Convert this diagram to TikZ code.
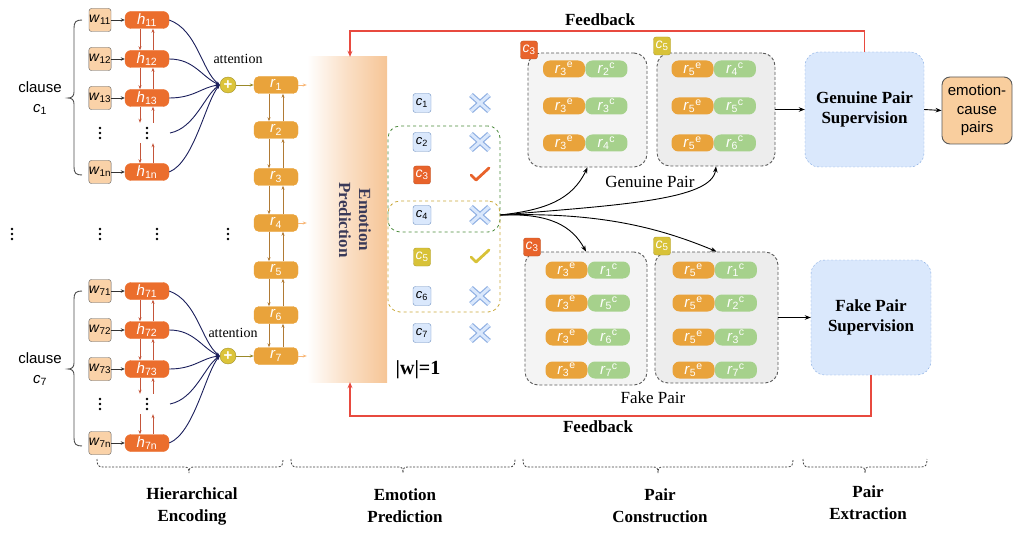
\documentclass[tikz,border=0pt]{standalone}
\usepackage{fontspec}
\setmainfont{Liberation Serif}
\setsansfont{Liberation Sans}
\usetikzlibrary{arrows.meta,calc}
\definecolor{wfill}{HTML}{FAD2A8}
\definecolor{hfill}{HTML}{EB6E2D}
\definecolor{rfill}{HTML}{E9A33B}
\definecolor{gfill}{HTML}{A6D18C}
\definecolor{cfill}{HTML}{DAE8FC}
\definecolor{cdraw}{HTML}{6C8EBF}
\definecolor{c3fill}{HTML}{E8632B}
\definecolor{c5fill}{HTML}{D8C238}
\definecolor{navy}{HTML}{1B1F5C}
\definecolor{fbred}{HTML}{E84A3F}
\definecolor{epc}{HTML}{F6C596}
\definecolor{eptext}{HTML}{3A3A58}
\definecolor{hharrow}{HTML}{C4553A}
\definecolor{rrarrow}{HTML}{B07A35}
\definecolor{plusc}{HTML}{DCC43A}
\definecolor{grpgreen}{HTML}{4A8A3A}
\definecolor{grpyellow}{HTML}{C9A83A}
\definecolor{supfill}{HTML}{DAE8FC}
\definecolor{supdraw}{HTML}{7EA6E0}
\definecolor{ecfill}{HTML}{F9CE9E}
\definecolor{boxgray}{HTML}{F4F4F4}
\definecolor{boxgray2}{HTML}{EDEDED}
\definecolor{xblue}{HTML}{8FB0E3}
\newcommand\sub[2]{\textit{#1}\textsubscript{#2}}
\newcommand\rp[2]{\textit{r}\textsubscript{#1}\textsuperscript{#2}}
\newcommand\vdt[2]{\fill (#1,#2-5) circle (1.4pt) (#1,#2) circle (1.4pt) (#1,#2+5) circle (1.4pt);}
\newcommand\vbrace[3]{\draw[lbrace] (82,#1) .. controls (76,#1) and (74,#1+2) .. (74,#1+8) -- (74,#3-6) .. controls (74,#3-2) and (72,#3) .. (68,#3) .. controls (72,#3) and (74,#3+2) .. (74,#3+6) -- (74,#2-8) .. controls (74,#2-2) and (76,#2) .. (82,#2);}
\newcommand\hbrace[3]{\draw[bbrace] (#1,459) .. controls (#1,465) and (#1+1,467) .. (#1+6,467) -- (#3-5,467) .. controls (#3-1,467) and (#3,468) .. (#3,473) .. controls (#3,468) and (#3+1,467) .. (#3+5,467) -- (#2-6,467) .. controls (#2-1,467) and (#2,465) .. (#2,459);}
\newcommand\xmk[1]{\draw[line width=5.4pt, xblue] ([shift={(-9,-8)}]#1) -- ([shift={(9,8)}]#1) ([shift={(-9,8)}]#1) -- ([shift={(9,-8)}]#1);
\draw[line width=3pt, cfill] ([shift={(-9,-8)}]#1) -- ([shift={(9,8)}]#1) ([shift={(-9,8)}]#1) -- ([shift={(9,-8)}]#1);}
\newcommand\cmk[2]{\draw[line width=2.8pt, #2, line cap=round, line join=round] ([shift={(-9,0)}]#1) -- ([shift={(-4,5)}]#1) -- ([shift={(9,-7)}]#1);}
\tikzset{
 wbox/.style={draw=black!65, fill=wfill, rounded corners=2.5pt, minimum width=22pt, minimum height=23pt, inner sep=0pt, font=\sffamily\fontsize{14}{14}\selectfont},
 hbox/.style={fill=hfill, draw=hfill, rounded corners=6pt, minimum width=44pt, minimum height=17pt, inner sep=0pt, text=white, font=\sffamily\fontsize{15}{15}\selectfont},
 rbox/.style={fill=rfill, draw=rfill, rounded corners=5pt, minimum width=44pt, minimum height=17pt, inner sep=0pt, text=white, font=\sffamily\fontsize{15}{15}\selectfont},
 cbox/.style={draw=cdraw, fill=cfill, rounded corners=2.5pt, minimum width=18pt, minimum height=19pt, inner sep=0pt, font=\sffamily\fontsize{13}{13}\selectfont},
 badge/.style={draw=#1!80!black, fill=#1, text=white, rounded corners=2.5pt, minimum width=17pt, minimum height=18pt, inner sep=0pt, font=\sffamily\fontsize{14}{14}\selectfont},
 pe/.style={fill=rfill, rounded corners=7pt, minimum width=42pt, minimum height=17pt, inner sep=0pt, text=white, font=\sffamily\fontsize{15}{15}\selectfont},
 pc/.style={fill=gfill, rounded corners=7pt, minimum width=42pt, minimum height=17pt, inner sep=0pt, text=white, font=\sffamily\fontsize{15}{15}\selectfont},
 pbox/.style={draw=black!65, dash pattern=on 3pt off 2pt, line width=0.9pt, rounded corners=13pt},
 sup/.style={draw=supdraw, fill=supfill, dash pattern=on 2pt off 2pt, rounded corners=14pt, align=center, font=\bfseries\fontsize{17}{20}\selectfont},
 plusn/.style={circle, fill=plusc, draw=plusc!75!black, minimum size=16pt, inner sep=0pt, text=white, font=\sffamily\bfseries\fontsize{15}{15}\selectfont},
 warrow/.style={->, black!80, line width=0.8pt, >={Stealth[length=4pt,width=3.5pt]}},
 hh/.style={->, hharrow, line width=0.9pt, >={Stealth[length=4pt,width=3pt]}},
 rr/.style={->, rrarrow, line width=0.9pt, >={Stealth[length=4pt,width=3pt]}},
 att/.style={-{Stealth[length=4pt,width=3pt]}, navy, line width=0.9pt},
 pa/.style={->, plusc!70!black, line width=0.9pt, >={Stealth[length=4pt,width=3pt]}},
 ra/.style={->, epc!80!orange, line width=0.9pt, >={Stealth[length=4pt,width=3pt]}},
 blk/.style={->, black, line width=0.9pt, >={Stealth[length=6pt,width=4.5pt]}},
 fb/.style={->, fbred, line width=1.4pt, >={Stealth[length=6pt,width=5pt]}},
 lbrace/.style={black!70, line width=0.9pt},
 bbrace/.style={black!75, line width=0.8pt, dash pattern=on 2pt off 1.5pt},
 lbl/.style={align=center, font=\bfseries\fontsize{17}{22}\selectfont},
}
\begin{document}
\begin{tikzpicture}[x=1pt,y=-1pt]
\useasboundingbox (0,0) rectangle (1033,540);

% ---------- emotion prediction box
\node[left color=white, right color=epc, middle color=epc!55, minimum width=80pt, minimum height=325pt, inner sep=0pt] (ep) at (347,219.5) {};
\node[rotate=-90, align=center, text=eptext, font=\bfseries\fontsize{17}{20}\selectfont] (ept) at (355,220) {Emotion\\Prediction};

% ---------- hierarchical encoding groups
\foreach \g/\oy in {1/0,7/271}{
  \node[wbox] (w\g1) at (100,20+\oy) {\sub{w}{\g1}};
  \node[wbox] (w\g2) at (100,59+\oy) {\sub{w}{\g2}};
  \node[wbox] (w\g3) at (100,98+\oy) {\sub{w}{\g3}};
  \node[wbox] (w\g n) at (100,172+\oy) {\sub{w}{\g n}};
  \node[hbox] (h\g1) at (147,20+\oy) {\sub{h}{\g1}};
  \node[hbox] (h\g2) at (147,59+\oy) {\sub{h}{\g2}};
  \node[hbox] (h\g3) at (147,98+\oy) {\sub{h}{\g3}};
  \node[hbox] (h\g n) at (147,172+\oy) {\sub{h}{\g n}};
  \node[minimum width=6pt, minimum height=20pt, inner sep=0pt] (h\g d) at (147,133+\oy) {};
  \vdt{100}{133+\oy}
  \vdt{147}{133+\oy}
  \foreach \k in {1,2,3,n} \draw[warrow] (w\g\k.east) -- (h\g\k.west);
  \foreach \a/\b in {1/2,2/3,3/d,d/n}{
    \draw[hh] ([xshift=-7pt]h\g\a.south) -- ([xshift=-7pt]h\g\b.north);
    \draw[hh] ([xshift=6pt]h\g\b.north) -- ([xshift=6pt]h\g\a.south);
  }
  \node[plusn] (p\g) at (228,85+\oy) {+};
  \coordinate (cd\g) at (170,133+\oy);
  \draw[att] (h\g1.east) .. controls +(28,10) and +(-18,-14) .. (p\g.west);
  \draw[att] (h\g2.east) .. controls +(25,0) and +(-18,-8) .. (p\g.west);
  \draw[att] (h\g3.east) .. controls +(25,0) and +(-18,2) .. (p\g.west);
  \draw[att] (cd\g) .. controls +(25,-5) and +(-15,10) .. (p\g.west);
  \draw[att] (h\g n.east) .. controls +(25,-10) and +(-14,16) .. (p\g.west);
  \node[font=\sffamily\fontsize{15}{20}\selectfont, align=center] (cl\g) at (40,98+\oy) {clause\\\sub{c}{\g}};
  \vbrace{20+\oy}{175+\oy}{98+\oy}
}
\node[font=\fontsize{14}{14}\selectfont] (at1) at (238,59) {attention};
\node[font=\fontsize{14}{14}\selectfont] (at7) at (233,333) {attention};
\vdt{12}{234}
\vdt{100}{234}
\vdt{157}{234}
\vdt{228}{234}

% ---------- r column
\foreach \i/\y in {1/85,2/130,3/177,4/223,5/270,6/315,7/356}
  \node[rbox] (r\i) at (276,\y) {\sub{r}{\i}};
\foreach \a/\b in {1/2,2/3,3/4,4/5,5/6,6/7}{
  \draw[rr] ([xshift=-7pt]r\a.south) -- ([xshift=-7pt]r\b.north);
  \draw[rr] ([xshift=7pt]r\b.north) -- ([xshift=7pt]r\a.south);
}
\draw[pa] (p1.east) -- (r1.west);
\draw[pa] (p7.east) -- (r7.west);
\foreach \i in {1,4,7} \draw[ra] (r\i.east) -- (r\i.east -| ep.west);

% ---------- clause selection
\node[draw=grpgreen, dashed, line width=0.8pt, rounded corners=12pt, minimum width=112pt, minimum height=106pt] (gG) at (444,179) {};
\node[draw=grpyellow, dashed, line width=0.8pt, rounded corners=12pt, minimum width=112pt, minimum height=111pt] (gY) at (444,256.5) {};
\foreach \i/\y in {1/103,2/142,4/215,6/296,7/333}{
  \node[cbox] (c\i) at (422,\y) {\sub{c}{\i}};
  \coordinate (m\i) at (480,\y);
  \xmk{m\i}
}
\node[badge=c3fill] (c3) at (422,175) {\sub{c}{3}};
\node[badge=c5fill] (c5) at (422,257) {\sub{c}{5}};
\coordinate (m3) at (480,175);
\coordinate (m5) at (480,257);
\cmk{m3}{c3fill}
\cmk{m5}{c5fill}
\node[font=\bfseries\fontsize{20}{20}\selectfont] (wl) at (418,370) {|w|=1};

% ---------- pair construction
\node[pbox, fill=boxgray, minimum width=119pt, minimum height=114pt] (gen1) at (587.5,110) {};
\node[pbox, fill=boxgray2, minimum width=118pt, minimum height=113pt] (gen2) at (716,109.5) {};
\node[pbox, fill=boxgray, minimum width=122pt, minimum height=133pt] (fk1) at (586,318.5) {};
\node[pbox, fill=boxgray2, minimum width=123pt, minimum height=131pt] (fk2) at (716.5,317.5) {};
\node[badge=c3fill] (bg1) at (529,50) {\sub{c}{3}};
\node[badge=c5fill] (bg2) at (662,46) {\sub{c}{5}};
\node[badge=c3fill] (bf1) at (532,247) {\sub{c}{3}};
\node[badge=c5fill] (bf2) at (662,246) {\sub{c}{5}};
\foreach \y/\b [count=\i] in {69/2,106/3,143/4}{
  \node[pe] (ga\i) at (564,\y) {\rp{3}{e}};
  \node[pc, anchor=west] (gb\i) at (ga\i.east) {\rp{\b}{c}};
}
\foreach \y/\b [count=\i] in {69/4,106/5,143/6}{
  \node[pe] (gc\i) at (692.5,\y) {\rp{5}{e}};
  \node[pc, anchor=west] (gd\i) at (gc\i.east) {\rp{\b}{c}};
}
\foreach \y/\b [count=\i] in {270/1,303/5,337/6,370/7}{
  \node[pe] (fa\i) at (566.5,\y) {\rp{3}{e}};
  \node[pc, anchor=west] (fb\i) at (fa\i.east) {\rp{\b}{c}};
}
\foreach \y/\b [count=\i] in {270/1,303/2,337/3,370/7}{
  \node[pe] (fc\i) at (693.5,\y) {\rp{5}{e}};
  \node[pc, anchor=west] (fd\i) at (fc\i.east) {\rp{\b}{c}};
}
\node[font=\fontsize{17}{17}\selectfont] (gpl) at (650,182) {Genuine Pair};
\node[font=\fontsize{17}{17}\selectfont] (fpl) at (653,398) {Fake Pair};

\coordinate (c4o) at (gG.east |- c4);
\draw[blk] (c4o) .. controls (545,210) and (572,200) .. (gen1.south);
\draw[blk] (c4o) .. controls (620,205) and (712,200) .. (gen2.south);
\draw[blk] (c4o) .. controls (550,213) and (572,226) .. (fk1.north);
\draw[blk] (c4o) .. controls (600,212) and (660,228) .. (fk2.north);

% ---------- pair extraction
\node[sup, minimum width=119pt, minimum height=115pt] (gps) at (864.5,109.5) {Genuine Pair\\Supervision};
\node[sup, minimum width=120pt, minimum height=115pt] (fps) at (871,317.5) {Fake Pair\\Supervision};
\node[draw=black!65, fill=ecfill, line width=0.9pt, rounded corners=8pt, minimum width=70pt, minimum height=67pt, align=center, inner sep=0pt, font=\sffamily\fontsize{15}{18.5}\selectfont] (ecp) at (977,110.5) {emotion-\\cause\\pairs};
\draw[blk] (gen2.east) -- (gps.west);
\draw[blk] (gps.east) -- (ecp.west);
\draw[blk] (fk2.east) -- (fps.west);

% ---------- feedback
\coordinate (fbt) at (350,31);
\coordinate (fbb) at (350,416);
\draw[fb] (gps.north) |- (fbt) -- (fbt |- ep.north);
\draw[fb] (fps.south) |- (fbb) -- (fbb |- ep.south);
\node[font=\bfseries\fontsize{17}{17}\selectfont] (fbl1) at (600,20) {Feedback};
\node[font=\bfseries\fontsize{17}{17}\selectfont] (fbl2) at (598,427) {Feedback};

% ---------- stage braces and labels
\hbrace{97}{283}{189}
\hbrace{291}{515}{403}
\hbrace{523}{793}{658}
\hbrace{803}{927}{865}
\node[lbl] (s1) at (192,506) {Hierarchical\\Encoding};
\node[lbl] (s2) at (405,506) {Emotion\\Prediction};
\node[lbl] (s3) at (660,506) {Pair\\Construction};
\node[lbl] (s4) at (868,503) {Pair\\Extraction};
\end{tikzpicture}
\end{document}
